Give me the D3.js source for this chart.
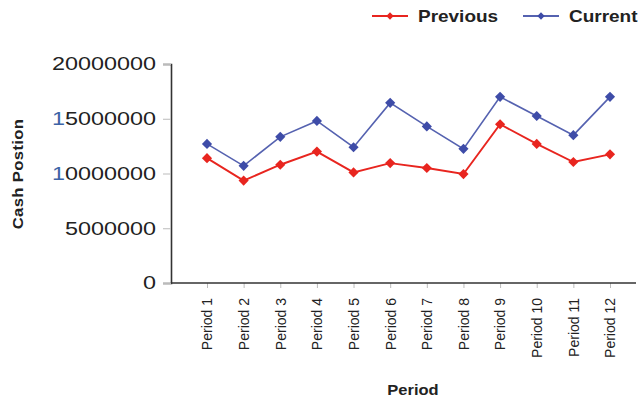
<!DOCTYPE html>
<html><head><meta charset="utf-8">
<script src="https://cdn.jsdelivr.net/npm/d3@7"></script>
<style>
body{margin:0;background:#fff;}
svg{display:block;font-family:"Liberation Sans",Arial,sans-serif;}
</style></head>
<body>
<svg id="c" width="639" height="400"></svg>
<script>
const periods = ["Period 1","Period 2","Period 3","Period 4","Period 5","Period 6","Period 7","Period 8","Period 9","Period 10","Period 11","Period 12"];
const previous = [11400000,9350000,10800000,12000000,10100000,10950000,10500000,9950000,14500000,12700000,11050000,11750000];
const current = [12700000,10700000,13350000,14800000,12400000,16450000,14300000,12250000,17000000,15250000,13500000,17000000];
const yTicks = [0,5000000,10000000,15000000,20000000];
const seriesNames = ["Previous","Current"];
const seriesColors = ["#e8251f","#3e4ca8"];
const lineColors = ["#e8251f","#5562b0"];

const svg = d3.select("#c");
const x = d3.scalePoint().domain(periods).range([207,610]);
const y = d3.scaleLinear().domain([0,20000000]).range([283,64]);

// axes
const yAxis = d3.axisLeft(y).tickValues(yTicks).tickSize(8).tickPadding(6).tickFormat(d3.format("d"));
const gy = svg.append("g").attr("transform","translate(171,0)").call(yAxis);
gy.select(".domain").attr("stroke","#333").attr("stroke-width",1.6);
gy.selectAll(".tick line").attr("stroke","#bbb").attr("stroke-width",1);
gy.selectAll(".tick text").attr("font-size",18).attr("fill","#222")
  .attr("font-family","'Liberation Sans',Arial,sans-serif")
  .attr("x",0).attr("transform","translate(-15,0) scale(1.3,1)")
  .each(function(d){
    const t = d3.select(this);
    const s = d3.format("d")(d);
    if (s.length === 8 && s[0] === "1") {
      t.text(null);
      t.append("tspan").attr("fill","#3d63a6").text(s[0]);
      t.append("tspan").text(s.slice(1));
    }
  });

const xAxis = d3.axisBottom(x).tickSize(5).tickSizeOuter(0);
const gx = svg.append("g").attr("transform","translate(0,283)").call(xAxis);
gx.select(".domain").remove();
gx.append("line").attr("x1",171).attr("x2",636).attr("y1",0).attr("y2",0).attr("stroke","#333").attr("stroke-width",1.6);
gx.selectAll(".tick line").attr("stroke","#bbb");
gx.selectAll(".tick text")
  .attr("font-size",14).attr("fill","#222")
  .attr("font-family","'Liberation Sans Narrow','Liberation Sans',Arial,sans-serif")
  .attr("text-anchor","end")
  .attr("transform","rotate(-90)")
  .attr("x",-15).attr("y",0).attr("dy","0.35em");

// titles
svg.append("text").attr("transform","translate(23,174) rotate(-90) scale(1.15,1)")
  .attr("text-anchor","middle").attr("font-size",14.5).attr("font-weight","bold")
  .attr("letter-spacing",0.3).attr("fill","#222").text("Cash Postion");
svg.append("text").attr("transform","translate(413,395) scale(1.1,1)")
  .attr("text-anchor","middle").attr("font-size",15).attr("font-weight","bold")
  .attr("fill","#222").text("Period");

// series
const line = d3.line().x((d,i)=>x(periods[i])).y(d=>y(d));
const diamond = d3.symbol().type(d3.symbolDiamond2).size(66);
[previous,current].forEach((vals,k)=>{
  svg.append("path").datum(vals).attr("d",line)
    .attr("fill","none").attr("stroke",lineColors[k]).attr("stroke-width",k===0?1.9:1.6);
  svg.selectAll(null).data(vals).enter().append("path")
    .attr("d",diamond)
    .attr("transform",(d,i)=>`translate(${x(periods[i])},${y(d)})`)
    .attr("fill",seriesColors[k]);
});

// legend
const legX = [372,523];
seriesNames.forEach((n,k)=>{
  const g = svg.append("g").attr("transform",`translate(${legX[k]},16)`);
  g.append("line").attr("x1",0).attr("x2",36).attr("y1",0).attr("y2",0)
    .attr("stroke",lineColors[k]).attr("stroke-width",1.8);
  g.append("path").attr("d",d3.symbol().type(d3.symbolDiamond2).size(34)).attr("transform","translate(18,0)").attr("fill",seriesColors[k]);
  g.append("text").attr("transform","translate(46,0) scale(1.15,1)").attr("dy","0.36em")
    .attr("font-size",16.5).attr("font-weight","bold")
    .attr("fill","#222").text(n);
});
</script>
</body></html>
